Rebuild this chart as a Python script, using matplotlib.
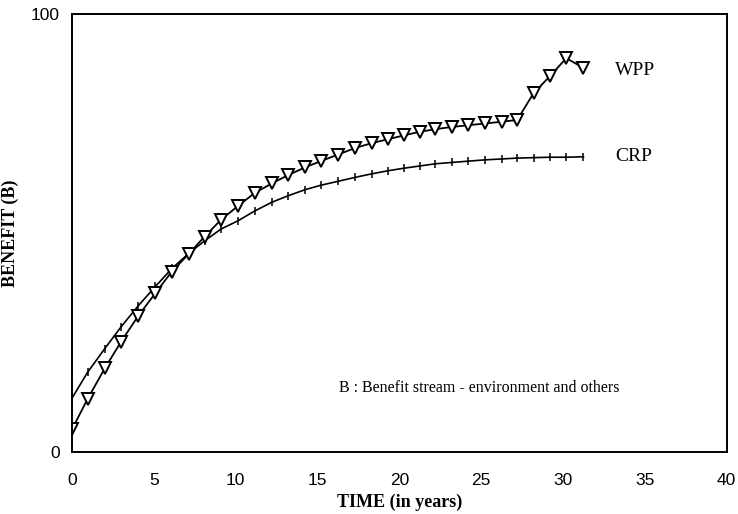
import matplotlib.pyplot as plt

# years (markers sit roughly one year apart)
years = [0, 0.95, 2.0, 3.0, 4.05, 5.1, 6.1, 7.15, 8.1, 9.1, 10.15, 11.15, 12.2,
         13.2, 14.25, 15.2, 16.25, 17.3, 18.3, 19.3, 20.3, 21.25, 22.2, 23.2,
         24.2, 25.25, 26.25, 27.2, 28.2, 29.2, 30.2, 31.25]

wpp = [5.2, 12.1, 19.1, 25.2, 31.1, 36.3, 41.2, 45.3, 49.2, 53.0, 56.2, 59.1,
       61.3, 63.2, 65.0, 66.4, 67.9, 69.4, 70.5, 71.4, 72.3, 73.1, 73.7, 74.2,
       74.6, 75.0, 75.4, 75.8, 81.9, 85.8, 89.9, 87.7]

crp = [12.3, 18.2, 23.6, 28.6, 33.4, 37.8, 41.9, 45.4, 48.2, 50.9, 52.8, 55.0,
       57.0, 58.5, 59.9, 60.9, 61.8, 62.7, 63.5, 64.2, 64.8, 65.3, 65.8, 66.1,
       66.4, 66.7, 66.9, 67.1, 67.2, 67.3, 67.3, 67.4]

x_ticks = [0, 5, 10, 15, 20, 25, 30, 35, 40]
y_ticks = [0, 100]

serif = "Liberation Serif"
sans = "Liberation Sans"

fig = plt.figure(figsize=(7.38, 5.14), dpi=100)
ax = fig.add_axes([0.0976, 0.1206, 0.8870, 0.8522])

ax.plot(years, crp, color="black", lw=1.2, marker="|", ms=6, mew=1.1)
ax.plot(years, wpp, color="black", lw=1.3, marker="v", ms=8, mfc="white",
        mec="black", mew=1.4)

ax.set_xlim(0, 40)
ax.set_ylim(0, 100)
ax.set_xticks(x_ticks)
ax.set_yticks(y_ticks)
ax.tick_params(length=0, labelsize=12.5)
ax.tick_params(axis="x", pad=15)
ax.tick_params(axis="y", pad=9)
for lab in ax.get_xticklabels() + ax.get_yticklabels():
    lab.set_family(sans)

for s in ax.spines.values():
    s.set_linewidth(1.4)

ax.set_xlabel("TIME (in years)", family=serif, fontweight="bold",
              fontsize=13, labelpad=4)
ax.set_ylabel("BENEFIT (B)", family=serif, fontweight="bold",
              fontsize=13, labelpad=8)

ax.text(33.2, 87.2, "WPP", family=serif, fontsize=14, va="center")
ax.text(33.2, 67.5, "CRP", family=serif, fontsize=14, va="center")
ax.text(16.3, 14.5, "B : Benefit stream - environment and others",
        family=serif, fontsize=11.5, va="center")

fig.savefig("out.png", dpi=100)
